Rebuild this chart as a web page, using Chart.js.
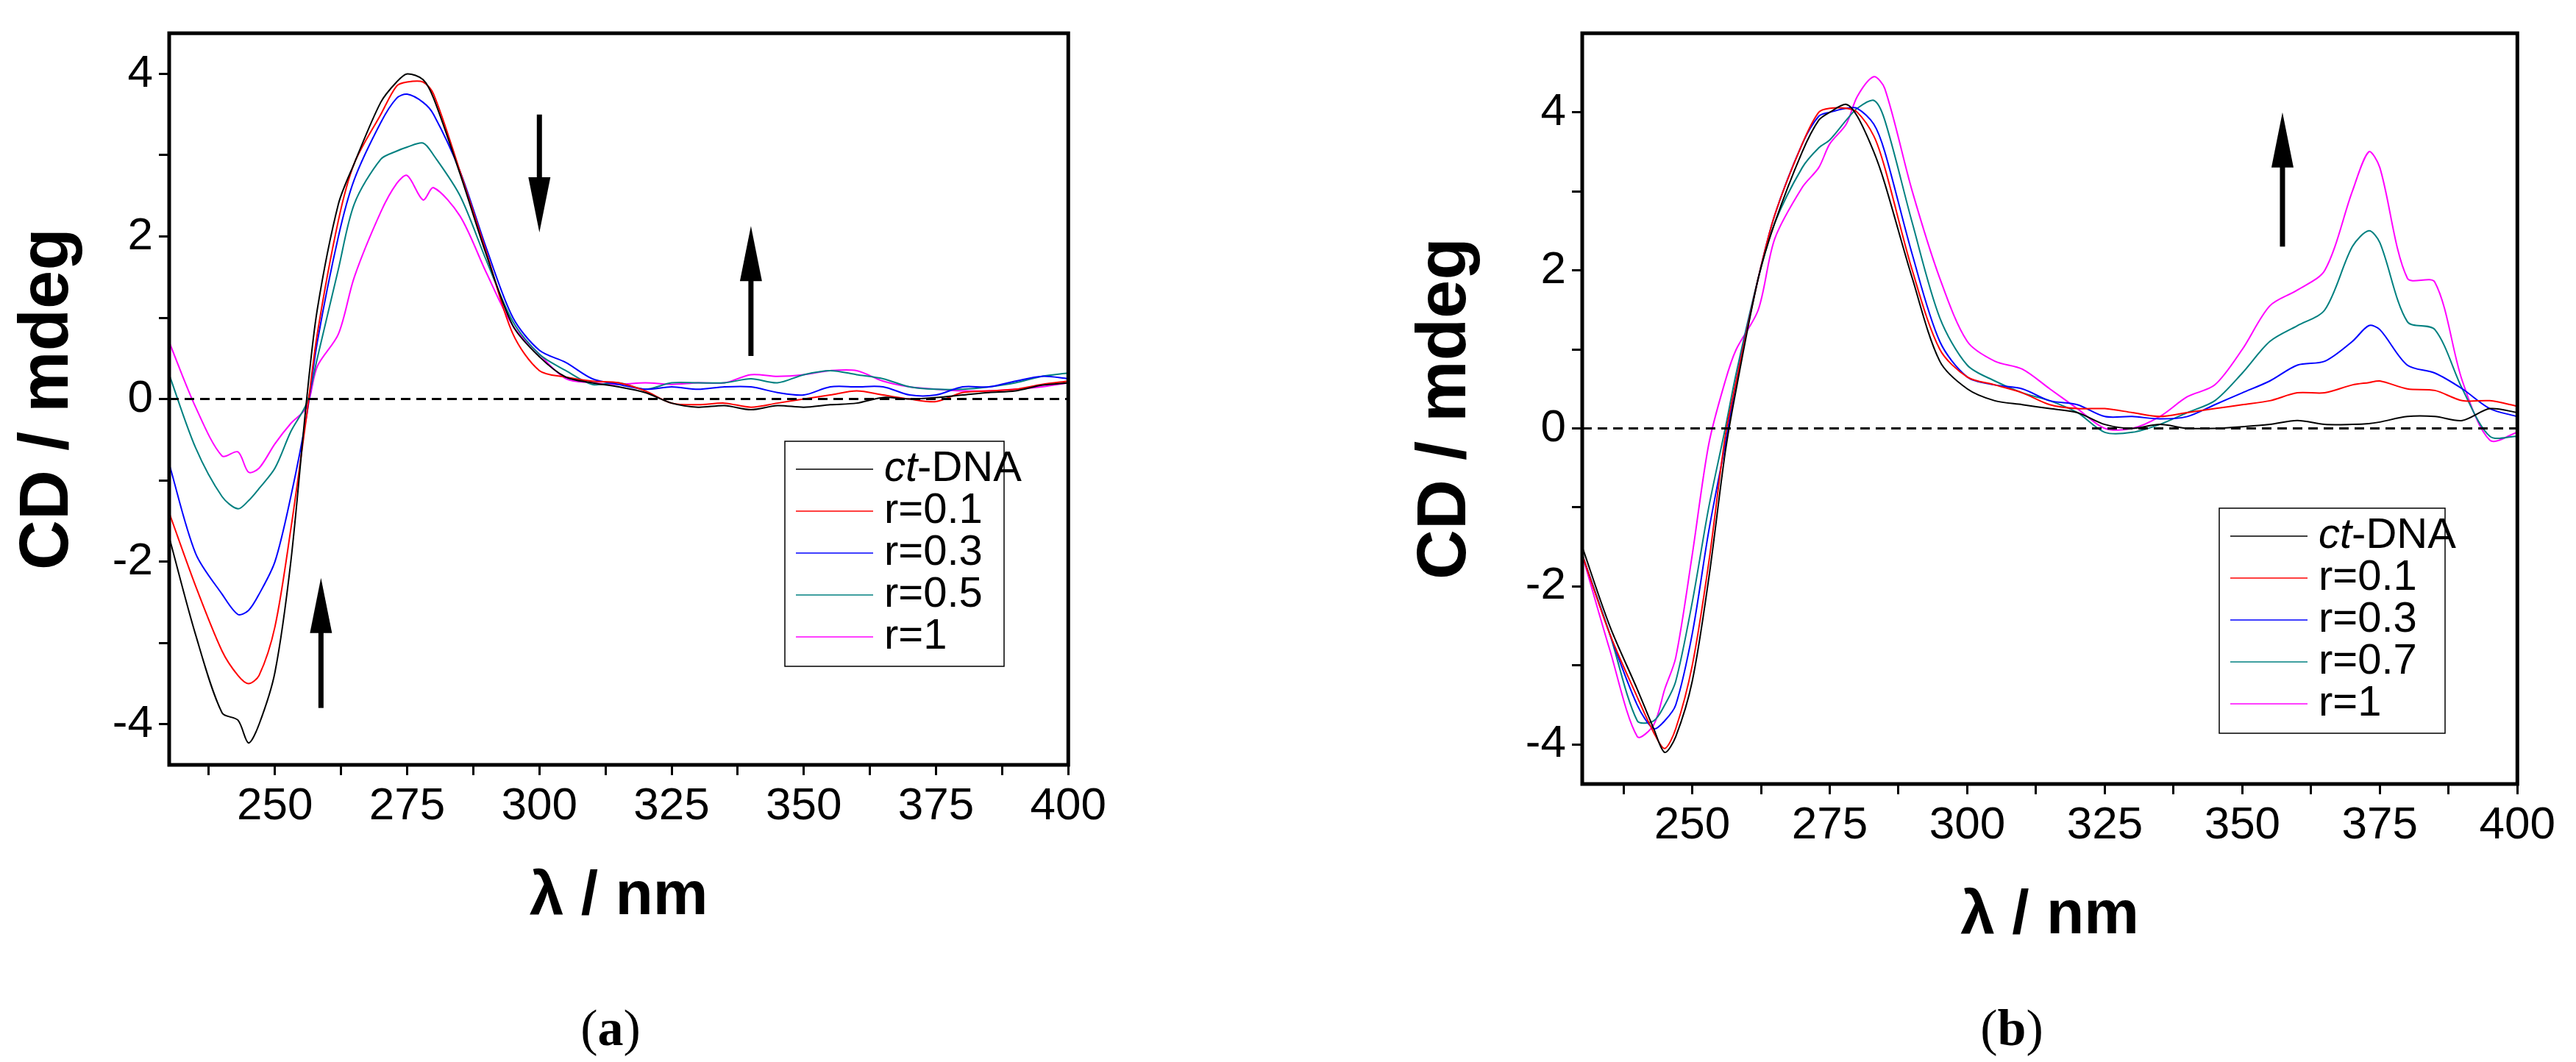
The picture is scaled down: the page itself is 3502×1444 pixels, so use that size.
<!DOCTYPE html>
<html>
<head>
<meta charset="utf-8">
<script src="https://cdn.jsdelivr.net/npm/chart.js@4.4.0/dist/chart.umd.min.js"></script>
<style>
body { margin:0; width:3502px; height:1444px; background:#fff; position:relative; overflow:hidden; }
.box { position:absolute; top:0; }
.cap { position:absolute; top:1358px; font-family:'Liberation Serif', serif; font-size:70px; transform:translateX(-50%); }
</style>
</head>
<body>
<div class="box" style="left:0;width:1510px;height:1270px"><canvas id="chartA"></canvas></div>
<div class="box" style="left:1900px;width:1580px;height:1296px"><canvas id="chartB"></canvas></div>
<div class="cap" style="left:830px">(<b>a</b>)</div>
<div class="cap" style="left:2735px">(<b>b</b>)</div>
<script>
// (a) 左の図
const xA = [230,235,240,243,245,247,250,253,256,258,262,265,270,273,275,278,280,285,290,295,300,305,310,315,320,325,330,335,340,345,350,355,360,365,370,375,380,385,390,395,400];
const a_ct  = [-1.7,-2.9,-3.86,-3.95,-4.23,-4.0,-3.36,-2.0,0,1.1,2.4,2.9,3.65,3.9,4.0,3.93,3.7,2.77,1.77,0.9,0.52,0.27,0.2,0.15,0.08,-0.05,-0.1,-0.08,-0.13,-0.08,-0.1,-0.07,-0.05,0.02,0,0.02,0.05,0.08,0.1,0.17,0.2];
const a_r01 = [-1.4,-2.3,-3.1,-3.4,-3.5,-3.4,-2.8,-1.6,-0.2,0.8,2.2,2.9,3.5,3.85,3.9,3.9,3.75,2.8,1.8,0.8,0.35,0.27,0.22,0.2,0.1,-0.05,-0.07,-0.05,-0.1,-0.05,0,0.05,0.1,0.05,0,-0.03,0.08,0.1,0.12,0.18,0.22];
const a_r03 = [-0.8,-1.9,-2.4,-2.65,-2.6,-2.4,-2.0,-1.2,-0.2,0.7,2.0,2.7,3.4,3.7,3.75,3.65,3.5,2.8,1.85,1.0,0.6,0.45,0.25,0.18,0.12,0.15,0.12,0.15,0.15,0.08,0.05,0.15,0.15,0.15,0.05,0.05,0.15,0.15,0.22,0.28,0.25];
const a_r05 = [0.3,-0.6,-1.2,-1.35,-1.25,-1.1,-0.85,-0.4,-0.05,0.5,1.6,2.4,2.95,3.05,3.1,3.15,3.0,2.5,1.7,0.95,0.55,0.35,0.18,0.2,0.12,0.2,0.2,0.2,0.25,0.2,0.3,0.35,0.3,0.25,0.15,0.12,0.12,0.15,0.2,0.28,0.32];
const a_r1  = [0.7,-0.1,-0.7,-0.65,-0.9,-0.85,-0.55,-0.3,-0.1,0.4,0.8,1.5,2.3,2.65,2.75,2.45,2.6,2.25,1.55,0.9,0.55,0.25,0.2,0.18,0.2,0.18,0.2,0.2,0.3,0.28,0.3,0.35,0.35,0.22,0.15,0.12,0.1,0.1,0.12,0.15,0.2];

// (b) 右の図
const xB = [230,235,240,243,245,247,250,253,256,258,262,265,270,273,275,278,280,283,285,290,295,300,305,310,315,320,325,330,335,340,345,350,355,360,365,370,373,375,380,385,390,395,400];
const b_ct  = [-1.5,-2.5,-3.3,-3.8,-4.1,-3.9,-3.2,-1.9,-0.3,0.5,1.9,2.6,3.5,3.9,4.0,4.1,3.95,3.5,3.1,1.9,0.85,0.5,0.35,0.3,0.25,0.2,0.05,0.0,0.05,0.0,0.0,0.02,0.05,0.1,0.05,0.05,0.06,0.08,0.15,0.15,0.1,0.25,0.2];
const b_r01 = [-1.6,-2.6,-3.4,-3.85,-4.05,-3.8,-3.0,-1.7,-0.1,0.6,1.9,2.7,3.6,4.0,4.05,4.05,4.0,3.7,3.3,2.0,1.0,0.65,0.55,0.45,0.3,0.25,0.25,0.2,0.15,0.2,0.25,0.3,0.35,0.45,0.45,0.55,0.58,0.6,0.5,0.48,0.35,0.35,0.28];
const b_r03 = [-1.6,-2.6,-3.5,-3.8,-3.7,-3.5,-2.6,-1.3,-0.2,0.6,1.9,2.7,3.6,3.95,4.0,4.05,4.05,3.85,3.5,2.2,1.1,0.65,0.55,0.5,0.35,0.3,0.15,0.15,0.12,0.15,0.3,0.45,0.6,0.8,0.85,1.1,1.3,1.25,0.8,0.7,0.5,0.25,0.15];
const b_r07 = [-1.6,-2.6,-3.7,-3.7,-3.5,-3.2,-2.2,-1.0,0.0,0.7,1.9,2.6,3.3,3.55,3.65,3.9,4.05,4.15,3.9,2.6,1.4,0.8,0.6,0.45,0.35,0.2,-0.05,-0.05,0.05,0.2,0.35,0.7,1.1,1.3,1.5,2.3,2.5,2.35,1.35,1.25,0.5,-0.1,-0.1];
const b_r1  = [-1.6,-2.8,-3.9,-3.75,-3.3,-2.9,-1.6,-0.2,0.6,1.0,1.5,2.4,3.05,3.3,3.6,3.85,4.2,4.45,4.3,3.0,1.9,1.1,0.85,0.75,0.5,0.25,0.0,0.0,0.15,0.4,0.55,1.0,1.55,1.75,2.0,3.0,3.5,3.3,1.9,1.85,0.6,-0.15,-0.05];

const labelsA = ['ct-DNA','r=0.1','r=0.3','r=0.5','r=1'];
const labelsB = ['ct-DNA','r=0.1','r=0.3','r=0.7','r=1'];
const colors = ['#000000','#ff0000','#0000ff','#008080','#ff00ff'];
const xTicks = [237.5,250,262.5,275,287.5,300,312.5,325,337.5,350,362.5,375,387.5,400];
const yTicks = [-4,-3,-2,-1,0,1,2,3,4];

const tickFont = {family:"'Liberation Sans Narrow','Liberation Sans',Arial", size:62};
const legFont = "'Liberation Sans Narrow','Liberation Sans',Arial";

function pts(xs, ys){ return xs.map((x,i)=>({x:x, y:ys[i]})); }

// 枠、ゼロ線、矢印、凡例
const decor = {
	id: 'decor',
	afterDatasetsDraw(chart, args, o){
		const c = chart.ctx, a = chart.chartArea, sx = chart.scales.x, sy = chart.scales.y;
		c.save();
		c.strokeStyle = '#000'; c.lineWidth = 3; c.setLineDash([13,8]);
		c.beginPath(); c.moveTo(a.left, sy.getPixelForValue(0)); c.lineTo(a.right, sy.getPixelForValue(0)); c.stroke();
		c.setLineDash([]);
		c.lineWidth = 5; c.strokeRect(a.left, a.top, a.right-a.left, a.bottom-a.top);
		// arrows
		o.arrows.forEach(ar => {
			const x = sx.getPixelForValue(ar[0]), y0 = sy.getPixelForValue(ar[1]), y1 = sy.getPixelForValue(ar[2]);
			const d = y1 < y0 ? -1 : 1;
			c.lineWidth = 7;
			c.beginPath(); c.moveTo(x, y0); c.lineTo(x, y1 - d*60); c.stroke();
			c.fillStyle = '#000';
			c.beginPath(); c.moveTo(x, y1); c.lineTo(x-15, y1-d*75); c.lineTo(x+15, y1-d*75); c.closePath(); c.fill();
		});
		// legend
		const L = o.legend;
		c.lineWidth = 1.5; c.strokeRect(L.x, L.y, L.w, L.h);
		c.textBaseline = 'middle';
		o.labels.forEach((t,i) => {
			const y = L.y + 38 + i*57;
			c.strokeStyle = colors[i]; c.lineWidth = 1.5;
			c.beginPath(); c.moveTo(L.x+15, y); c.lineTo(L.x+120, y); c.stroke();
			c.fillStyle = '#000';
			c.font = "58px " + legFont;
			if (t === 'ct-DNA') {
				c.font = "italic 58px " + legFont;
				c.fillText('ct', L.x+135, y);
				const w = c.measureText('ct').width;
				c.font = "58px " + legFont;
				c.fillText('-DNA', L.x+135+w, y);
			} else {
				c.fillText(t, L.x+135, y);
			}
		});
		c.restore();
	}
};

function makeConfig(xs, series, labels, ymin, ymax, yw, arrows, legend){
	return {
		type: 'line',
		data: {
			datasets: series.map((s,i) => ({
				label: labels[i],
				data: pts(xs, s),
				borderColor: colors[i],
				borderWidth: 2,
				pointRadius: 0,
				tension: 0.3,
			}))
		},
		options: {
			responsive: true,
			maintainAspectRatio: false,
			animation: false,
			layout: { padding: { top: 0, right: 40 } },
			plugins: {
				legend: { display: false },
				tooltip: { enabled: false },
				decor: { arrows: arrows, legend: legend, labels: labels },
			},
			scales: {
				x: {
					type: 'linear', min: 230, max: 400,
					afterBuildTicks: s => { s.ticks = xTicks.map(v => ({value: v})); },
					afterFit: s => { s.height = 230; },
					grid: { drawOnChartArea: false, color: '#000', lineWidth: 3, tickLength: 14 },
					border: { display: false },
					ticks: { color: '#000', font: tickFont, autoSkip: false, maxRotation: 0, padding: 6,
						callback: v => (v % 25 === 0 ? v : '') },
					title: { display: true, text: 'λ / nm', color: '#000',
						font: { family: "'Liberation Sans',Arial", size: 84, weight: 'bold' }, padding: { top: 0, bottom: 0 } },
				},
				y: {
					min: ymin, max: ymax,
					afterBuildTicks: s => { s.ticks = yTicks.map(v => ({value: v})); },
					afterFit: s => { s.width = yw; },
					grid: { drawOnChartArea: false, color: '#000', lineWidth: 3, tickLength: 14 },
					border: { display: false },
					ticks: { color: '#000', font: tickFont, padding: 8,
						callback: v => (v % 2 === 0 ? v : '') },
					title: { display: true, text: 'CD / mdeg', color: '#000',
						font: { family: "'Liberation Sans',Arial", size: 94, weight: 'bold' }, padding: { top: 10, bottom: 0 } },
				}
			}
		},
		plugins: [decor]
	};
}

window.addEventListener('load', () => {
	new Chart(document.getElementById('chartA'),
		makeConfig(xA, [a_ct,a_r01,a_r03,a_r05,a_r1], labelsA, -4.5, 4.5, 230,
			[[300,3.5,2.05],[340,0.53,2.13],[258.7,-3.8,-2.2]],
			{x:1067, y:600, w:298, h:306}));
	new Chart(document.getElementById('chartB'),
		makeConfig(xB, [b_ct,b_r01,b_r03,b_r07,b_r1], labelsB, -4.5, 5, 251,
			[[357.3,2.3,4.0]],
			{x:1117, y:691, w:307, h:306}));
});
</script>
</body>
</html>
